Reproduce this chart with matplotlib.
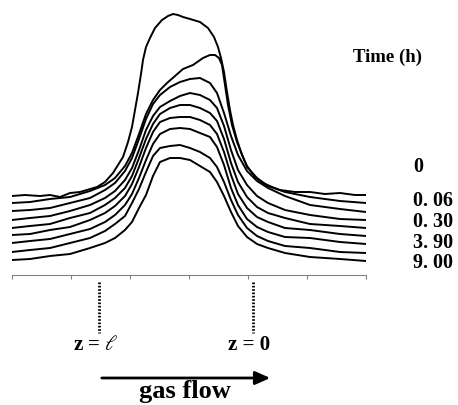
import numpy as np
import matplotlib
matplotlib.use('Agg')
import matplotlib.pyplot as plt  # noqa: E402

plt.rcParams['font.family'] = ['Liberation Serif', 'DejaVu Serif']
plt.rcParams['mathtext.fontset'] = 'dejavuserif'

# profile readings: position along the bed (0..354) and trace height
# (read top-down off the figure, flipped to a signal further below)
pos_a = [0, 13, 28, 38, 48, 58, 68, 85, 93, 101, 106, 111, 116, 120, 123, 126,
         129, 131, 134, 138, 143, 150, 156, 161, 166, 171, 178, 188, 196, 202,
         206, 209, 212, 215, 218, 221, 225, 230, 235, 243, 251, 260, 268, 283,
         298, 313, 328, 343, 354]
read_a = [196, 195, 196, 195, 197, 193, 192, 187, 182, 173, 165, 157, 142, 127,
          110, 93, 74, 60, 47, 38, 28, 20, 16, 14, 15, 17, 19, 22, 28, 37, 47,
          58, 72, 92, 110, 125, 140, 155, 166, 177, 183, 187, 190, 192, 192,
          194, 193, 195, 195]

pos_b = [0, 18, 38, 58, 78, 93, 103, 113, 120, 127, 134, 141, 148, 155, 163,
         171, 181, 191, 198, 203, 207, 210, 213, 216, 220, 225, 235, 245, 256,
         273, 298, 328, 354]
read_b = [203, 202, 199, 197, 191, 185, 178, 166, 153, 134, 114, 100, 90, 83,
          76, 69, 65, 58, 55, 55, 58, 65, 85, 105, 125, 142, 167, 178, 186, 192,
          197, 201, 203]

pos_c = [0, 18, 38, 58, 78, 93, 103, 113, 120, 127, 134, 141, 148, 158, 168,
         178, 188, 198, 205, 212, 219, 226, 235, 245, 256, 273, 298, 328, 354]
read_c = [
    [211, 210, 208, 203, 198, 190, 183, 171, 158, 139, 119, 104, 95, 87, 82,
     79, 78, 83, 93, 113, 136, 155, 171, 181, 188, 196, 205, 209, 212],
    [220, 218, 216, 211, 205, 198, 191, 180, 168, 150, 130, 116, 107, 101, 96,
     93, 95, 100, 108, 126, 150, 170, 185, 196, 203, 210, 215, 219, 220],
    [228, 226, 224, 218, 213, 205, 198, 188, 176, 158, 139, 124, 114, 108, 105,
     105, 108, 113, 121, 139, 163, 182, 197, 207, 213, 218, 224, 226, 228],
    [235, 234, 230, 227, 220, 213, 206, 196, 184, 167, 148, 132, 122, 118, 117,
     117, 120, 125, 134, 152, 175, 194, 208, 217, 222, 228, 230, 234, 236],
    [243, 241, 239, 234, 229, 222, 215, 205, 194, 178, 160, 144, 134, 129, 128,
     129, 133, 137, 147, 165, 188, 205, 219, 227, 232, 237, 238, 242, 244],
    [252, 250, 248, 243, 238, 231, 224, 216, 203, 189, 172, 156, 148, 146, 145,
     148, 152, 158, 167, 182, 200, 215, 228, 236, 241, 246, 248, 252, 253],
    [260, 259, 256, 254, 248, 243, 238, 230, 222, 208, 195, 176, 162, 158, 158,
     160, 166, 172, 182, 196, 212, 226, 237, 244, 248, 253, 257, 259, 261],
]

times = ['0', '0. 06', '0. 30', '3. 90', '9. 00']
time_y = [108, 74, 53, 32, 12]

fig = plt.figure(figsize=(4.58, 4.05), dpi=100)
ax = fig.add_axes([12 / 458, 130 / 405, 354 / 458, 265 / 405])

top = 275
ax.plot(pos_a, top - np.array(read_a), color='black', lw=1.4)
ax.plot(pos_b, top - np.array(read_b), color='black', lw=1.4)
for r in read_c:
    ax.plot(pos_c, top - np.array(r), color='black', lw=1.4)

ax.set_xlim(0, 354)
ax.set_ylim(0, 265)
ax.set_xticks(np.arange(0, 355, 59))
ax.set_yticks([])
ax.set_xticklabels([])
for s in ['top', 'left', 'right']:
    ax.spines[s].set_visible(False)
ax.spines['bottom'].set_color('#808080')
ax.tick_params(axis='x', colors='#808080', length=3, direction='out')

# bed ends
for xz, lab in [(87, 'z = $\\ell$'), (240.5, 'z = 0')]:
    ax.plot([xz, xz], [-7, -58], color='black', lw=2, ls=(0, (0.6, 0.6)),
            clip_on=False)
    ax.text(xz - 3, -70, lab, ha='center', va='center', fontsize=15,
            fontweight='bold', clip_on=False)

ax.annotate('', xy=(261, -103), xytext=(87, -103), xycoords='data',
            arrowprops=dict(arrowstyle='-|>,head_length=0.9,head_width=0.4',
                            color='black', lw=2), annotation_clip=False)
ax.text(173, -123, 'gas flow', ha='center', va='baseline', fontsize=19,
        fontweight='bold')

ax.text(341, 218, 'Time (h)', ha='left', va='center', fontsize=13.5,
        fontweight='bold')
for t, ty in zip(times, time_y):
    ax.text(401, ty, t, ha='left', va='center', fontsize=14.5,
            fontweight='bold')

fig.savefig('out.png', dpi=100)
